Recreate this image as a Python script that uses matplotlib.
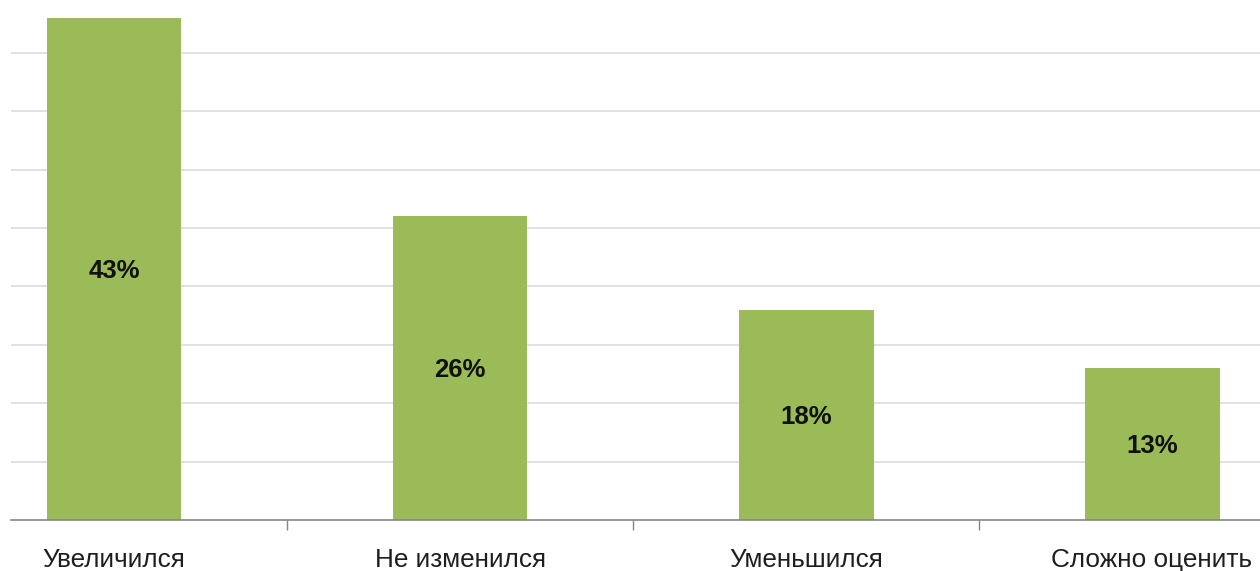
import matplotlib
matplotlib.use("Agg")
import matplotlib.pyplot as plt

categories = ["Увеличился", "Не изменился", "Уменьшился", "Сложно оценить"]
values = [43, 26, 18, 13]
labels = ["43%", "26%", "18%", "13%"]

plt.rcParams['font.family'] = ['Liberation Sans', 'DejaVu Sans']

fig = plt.figure(figsize=(12.6, 5.71), dpi=100)
ax = fig.add_axes([11 / 1260, 51 / 571, 1249 / 1260, 520 / 571])

x = list(range(len(categories)))
ax.bar(x, values, width=0.39, color="#9BBB59", zorder=3)

# value labels sit in the middle of each bar
for xi, v, lab in zip(x, values, labels):
    ax.text(xi, v / 2 - 0.2, lab, ha="center", va="center", fontsize=18.5,
            fontweight="bold", color="#111111", zorder=4)

ax.set_xlim(-0.2977, 3.312)
ax.set_ylim(0, 44.52)

ax.set_yticks(range(5, 45, 5))
ax.yaxis.grid(True, color="#D9D9D9", linewidth=1.1, zorder=0)
ax.tick_params(axis="y", length=0, labelleft=False)

ax.set_xticks(x)
ax.set_xticklabels(categories, fontsize=18.8, color="#1e1e1e")
ax.set_xticks([0.5, 1.5, 2.5], minor=True)
ax.tick_params(axis="x", which="major", length=0, pad=20)
ax.tick_params(axis="x", which="minor", length=7, width=1, color="#868686")

for s in ["top", "right", "left"]:
    ax.spines[s].set_visible(False)
ax.spines["bottom"].set_color("#868686")
ax.spines["bottom"].set_linewidth(1.2)
ax.spines["bottom"].set_zorder(5)

fig.savefig("out.png", dpi=100)
